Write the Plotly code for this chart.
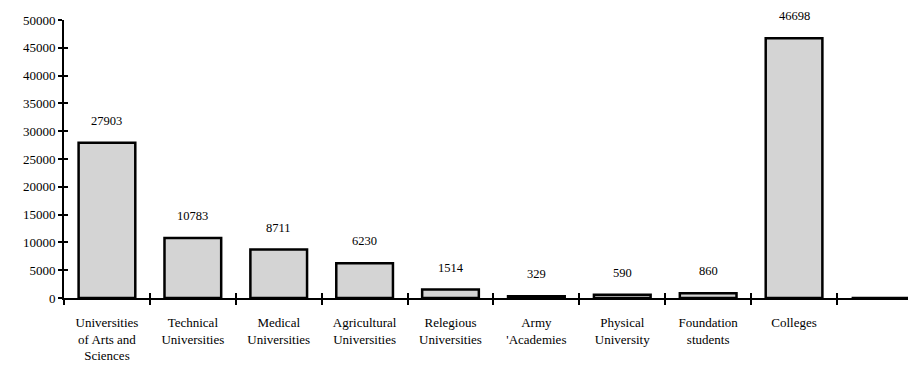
import plotly.graph_objects as go

categories = ["Universities<br>of Arts and<br>Sciences", "Technical<br>Universities", "Medical<br>Universities",
              "Agricultural<br>Universities", "Relegious<br>Universities", "Army<br>'Academies",
              "Physical<br>University", "Foundation<br>students", "Colleges", " "]
values = [27903, 10783, 8711, 6230, 1514, 329, 590, 860, 46698, 0]
value_labels = ["27903", "10783", "8711", "6230", "1514", "329", "590", "860", "46698", ""]
y_ticks = list(range(0, 50001, 5000))

FONT = "Liberation Serif, Times New Roman, serif"

fig = go.Figure()
fig.add_trace(go.Bar(
    x=categories, y=values, width=0.66,
    marker=dict(color="#d4d4d4", line=dict(color="black", width=2.5)),
    hoverinfo="skip", showlegend=False,
))
fig.add_trace(go.Scatter(x=categories, y=values, xaxis="x2", yaxis="y2",
                         mode="markers", marker=dict(opacity=0), showlegend=False, hoverinfo="skip"))

for c, v, t in zip(categories, values, value_labels):
    if t:
        fig.add_annotation(x=c, y=v, text=t, showarrow=False, yanchor="middle", yshift=22,
                           font=dict(family=FONT, size=12.5, color="black"))

xr = [-0.5, 9.35]
fig.update_layout(
    width=916, height=373,
    margin=dict(l=56, r=14, t=12, b=83),
    paper_bgcolor="white", plot_bgcolor="white",
    font=dict(family=FONT, color="black"),
    xaxis=dict(type="category", range=xr, showline=True, linecolor="black", linewidth=2,
               ticks="outside", tickson="boundaries", ticklen=5, tickwidth=2, tickcolor="black",
               ticklabelstandoff=11,
               tickfont=dict(family=FONT, size=13, color="black"), showgrid=False, zeroline=False,
               automargin=False),
    yaxis=dict(range=[0, 50000], tickvals=y_ticks, ticktext=[str(v) for v in y_ticks],
               showline=True, linecolor="black", linewidth=2, ticks="outside", ticklen=4,
               tickwidth=2, tickcolor="black", showgrid=False, zeroline=False, automargin=False,
               tickfont=dict(family=FONT, size=13, color="black")),
    xaxis2=dict(type="category", range=xr, overlaying="x", showline=False, ticks="inside",
                tickson="boundaries", ticklen=5, tickwidth=2, tickcolor="black",
                showticklabels=False, showgrid=False, zeroline=False, matches="x", automargin=False),
    yaxis2=dict(range=[0, 50000], tickvals=y_ticks, overlaying="y", showline=False, ticks="inside",
                ticklen=4, tickwidth=2, tickcolor="black", showticklabels=False,
                showgrid=False, zeroline=False, automargin=False),
)
fig.write_html("out.html")
